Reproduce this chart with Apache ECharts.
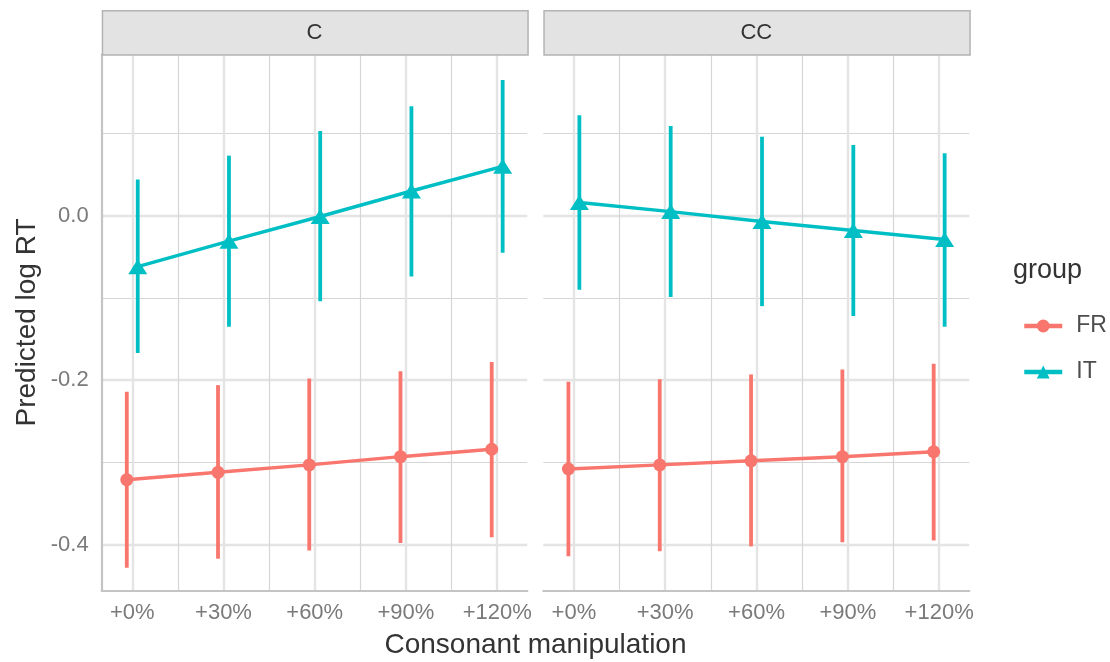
<!DOCTYPE html>
<html><head><meta charset="utf-8">
<script src="https://cdn.jsdelivr.net/npm/echarts@6/dist/echarts.min.js"></script>
<style>html,body{margin:0;padding:0;background:#fff}#c{width:1110px;height:662px}</style>
</head><body><div id="c"></div>
<script>
// ---- data ----
const categories = ['+0%', '+30%', '+60%', '+90%', '+120%'];
const facets = ['C', 'CC'];
const groups = ['FR', 'IT'];
const yTickLabels = [-0.4, -0.2, 0.0];
const yMinorTicks = [-0.3, -0.1, 0.1];
const xMinorTicks = [0.5, 1.5, 2.5, 3.5];

const C_FR    = [-0.321, -0.312, -0.303, -0.293, -0.284];
const C_FR_lo = [-0.428, -0.417, -0.407, -0.398, -0.391];
const C_FR_hi = [-0.214, -0.206, -0.198, -0.189, -0.178];
const C_IT    = [-0.062, -0.031, -0.001, 0.030, 0.060];
const C_IT_lo = [-0.167, -0.135, -0.104, -0.074, -0.045];
const C_IT_hi = [0.044, 0.073, 0.103, 0.133, 0.165];
const CC_FR    = [-0.308, -0.303, -0.298, -0.293, -0.287];
const CC_FR_lo = [-0.414, -0.408, -0.402, -0.397, -0.395];
const CC_FR_hi = [-0.202, -0.199, -0.193, -0.187, -0.180];
const CC_IT    = [0.016, 0.005, -0.007, -0.018, -0.029];
const CC_IT_lo = [-0.090, -0.099, -0.110, -0.122, -0.135];
const CC_IT_hi = [0.122, 0.109, 0.096, 0.086, 0.076];

const DATA = {
  C:  { FR: [C_FR, C_FR_lo, C_FR_hi],   IT: [C_IT, C_IT_lo, C_IT_hi] },
  CC: { FR: [CC_FR, CC_FR_lo, CC_FR_hi], IT: [CC_IT, CC_IT_lo, CC_IT_hi] }
};

// ---- styling / layout ----
const FONT = '"Liberation Sans", Arial, Helvetica, sans-serif';
const COL = { FR: '#F8766D', IT: '#00BFC4' };
const DODGE = { FR: -0.06, IT: 0.06 };
const X_MIN = -0.335, X_MAX = 4.33, Y_MIN = -0.4563, Y_MAX = 0.1962;
const TOP = 54.3, HEIGHT = 536.7;
const panels = [{ left: 101.7, width: 425.6 }, { left: 543.3, width: 426 }];
const MAJOR = { color: '#e4e4e4', width: 2.4 };
const MINOR = { color: '#d6d6d6', width: 1.2 };
const AXIS_LINE = { color: '#c4c4c4', width: 2.2 };

const grid = panels.map(p => ({ left: p.left, top: TOP, width: p.width, height: HEIGHT, containLabel: false }));
const xAxis = [], yAxis = [];
panels.forEach((p, k) => {
  const ticks = categories.map((_, i) => i);
  xAxis.push({
    gridIndex: k, type: 'value', min: X_MIN, max: X_MAX, position: 'bottom',
    axisLine: { show: true, onZero: false, lineStyle: AXIS_LINE },
    axisTick: { show: false, customValues: ticks },
    axisLabel: { customValues: ticks, formatter: v => categories[Math.round(v)], fontSize: 22, color: '#7a7a7a', margin: 11, fontFamily: FONT },
    splitLine: { show: true, lineStyle: MAJOR }
  });
  xAxis.push({
    gridIndex: k, type: 'value', min: X_MIN, max: X_MAX, position: 'bottom',
    axisLine: { show: false, onZero: false },
    axisTick: { show: false, customValues: xMinorTicks },
    axisLabel: { show: false, customValues: xMinorTicks },
    splitLine: { show: true, lineStyle: MINOR }
  });
  yAxis.push({
    gridIndex: k, type: 'value', min: Y_MIN, max: Y_MAX, position: 'left',
    axisLine: { show: k === 0, onZero: false, lineStyle: AXIS_LINE },
    axisTick: { show: false, customValues: yTickLabels },
    axisLabel: { show: k === 0, customValues: yTickLabels, formatter: v => v.toFixed(1), fontSize: 22, color: '#7a7a7a', margin: 13, fontFamily: FONT },
    splitLine: { show: true, lineStyle: MAJOR }
  });
  yAxis.push({
    gridIndex: k, type: 'value', min: Y_MIN, max: Y_MAX, position: 'left',
    axisLine: { show: false, onZero: false },
    axisTick: { show: false, customValues: yMinorTicks },
    axisLabel: { show: false, customValues: yMinorTicks },
    splitLine: { show: true, lineStyle: MINOR }
  });
});

const series = [];
facets.forEach((f, k) => {
  groups.forEach(g => {
    const [mid, lo, hi] = DATA[f][g];
    series.push({
      type: 'custom', name: g + ' CI', xAxisIndex: 2 * k, yAxisIndex: 2 * k, z: 2, silent: true,
      encode: { x: 0, y: [1, 2] },
      data: categories.map((_, i) => [i + DODGE[g], lo[i], hi[i]]),
      renderItem: (params, api) => {
        const x = api.value(0);
        const a = api.coord([x, api.value(1)]);
        const b = api.coord([x, api.value(2)]);
        return { type: 'line', shape: { x1: a[0], y1: a[1], x2: b[0], y2: b[1] }, style: { stroke: COL[g], lineWidth: 3.8 } };
      }
    });
    series.push({
      type: 'line', name: g, xAxisIndex: 2 * k, yAxisIndex: 2 * k, z: 3,
      data: categories.map((_, i) => [i + DODGE[g], mid[i]]),
      symbol: g === 'FR' ? 'circle' : 'triangle',
      symbolSize: g === 'FR' ? 13 : [19, 15],
      showSymbol: true,
      lineStyle: { color: COL[g], width: 3.4 },
      itemStyle: { color: COL[g] },
      emphasis: { disabled: true }
    });
  });
});

const graphic = [];
panels.forEach((p, k) => {
  graphic.push({ type: 'rect', left: p.left, top: 10, shape: { width: p.width, height: 44.3 }, style: { fill: '#e3e3e3', stroke: '#b3b3b3', lineWidth: 1.5 }, z: 10 });
  graphic.push({ type: 'text', x: p.left + p.width / 2, y: 32.5, style: { text: facets[k], font: '22px ' + FONT, fill: '#333333', textAlign: 'center', textVerticalAlign: 'middle' }, z: 11 });
});
graphic.push({ type: 'text', x: 535.5, y: 645, style: { text: 'Consonant manipulation', font: '28px ' + FONT, fill: '#333333', textAlign: 'center', textVerticalAlign: 'middle' } });
graphic.push({ type: 'text', x: 27, y: 322.5, rotation: Math.PI / 2, style: { text: 'Predicted log RT', font: '28px ' + FONT, fill: '#333333', textAlign: 'center', textVerticalAlign: 'middle' } });
graphic.push({ type: 'text', x: 1013, y: 271, style: { text: 'group', font: '27px ' + FONT, fill: '#333333', textAlign: 'left', textVerticalAlign: 'middle' } });

const chart = echarts.init(document.getElementById('c'), null, { renderer: 'canvas' });
chart.setOption({
  animation: false,
  backgroundColor: '#ffffff',
  grid, xAxis, yAxis, series, graphic,
  legend: {
    data: groups, orient: 'vertical', left: 1017, top: 309,
    itemWidth: 38, itemHeight: 16, itemGap: 22, selectedMode: false,
    lineStyle: { width: 4.5 },
    textStyle: { fontSize: 23, color: '#4d4d4d', fontFamily: FONT, padding: [0, 0, 0, 9], lineHeight: 24 }
  }
});
</script></body></html>
